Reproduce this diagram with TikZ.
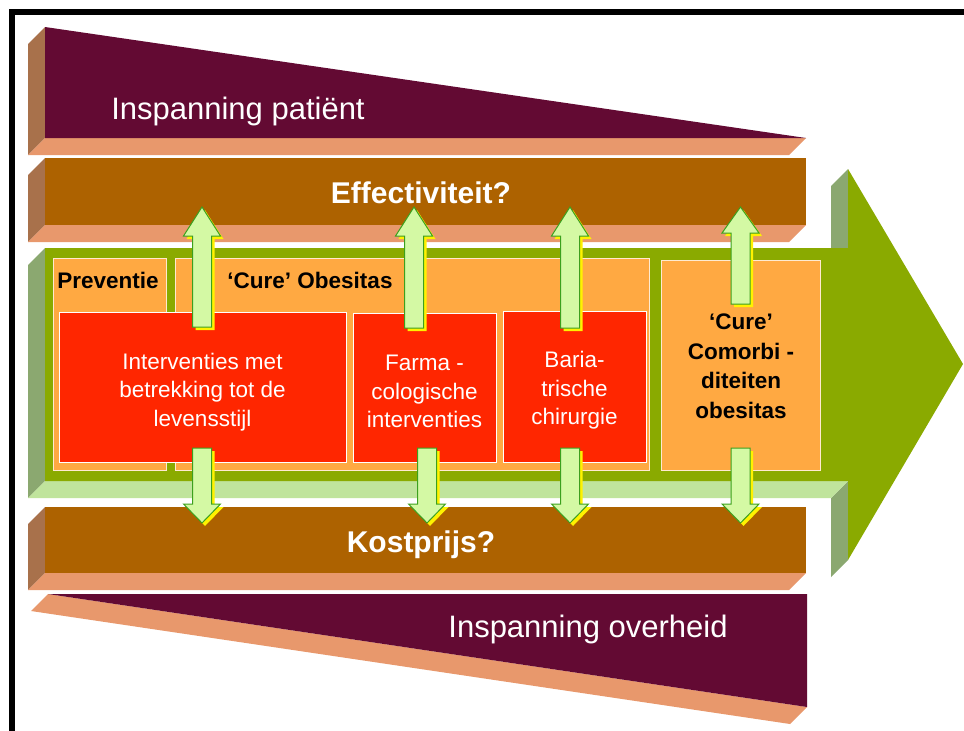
\documentclass[tikz,border=0pt]{standalone}
\usepackage{fontspec}
\setmainfont{Liberation Sans}
\usetikzlibrary{arrows.meta}
\definecolor{bordeaux}{HTML}{630A33}
\definecolor{zalm}{HTML}{E8986C}
\definecolor{bruinzij}{HTML}{A8714B}
\definecolor{oker}{HTML}{AD6200}
\definecolor{olijf}{HTML}{8AAA00}
\definecolor{grijsgroen}{HTML}{8BA870}
\definecolor{lichtgroen}{HTML}{C0E49C}
\definecolor{oranje}{HTML}{FFA942}
\definecolor{rood}{HTML}{FF2600}
\definecolor{pijlgroen}{HTML}{D4F9A4}
\definecolor{pijlrand}{HTML}{3CA01E}
\tikzset{%
  oranjevak/.style={draw=white!75!oranje, fill=oranje, line width=1pt, inner sep=0pt},
  roodvak/.style={draw=white, fill=rood, line width=1pt, inner sep=0pt},
  wittekst/.style={text=white, align=center, font=\fontsize{22.5}{28.5}\selectfont},
  witgroot/.style={text=white, anchor=base, font=\fontsize{31}{37}\selectfont},
  witvet/.style={text=white, anchor=base, font=\bfseries\fontsize{30}{36}\selectfont},
  zwartvet/.style={text=black, align=center, font=\bfseries\fontsize{22.5}{29.5}\selectfont},
}
% block arrow: x, tip, head base, tail
\newcommand{\pijl}[4]{%
  \fill[yellow, shift={(3,3)}] (#1-9.5,#4) -- (#1-9.5,#3) -- (#1-18.5,#3) -- (#1,#2) -- (#1+18.5,#3) -- (#1+9.5,#3) -- (#1+9.5,#4) -- cycle;
  \draw[pijlrand, fill=pijlgroen, line width=1pt] (#1-9.5,#4) -- (#1-9.5,#3) -- (#1-18.5,#3) -- (#1,#2) -- (#1+18.5,#3) -- (#1+9.5,#3) -- (#1+9.5,#4) -- cycle;
}

\begin{document}
\begin{tikzpicture}[x=1pt,y=-1pt]
\useasboundingbox (0,0) rectangle (964,731);
\fill[white] (0,0) rectangle (964,731);
\draw[line width=6pt] (12,731) -- (12,12) -- (964,12);

% inspanning patient
\fill[bruinzij] (45,27) -- (28,44) -- (28,155) -- (45,138) -- cycle;
\fill[zalm] (45,138) -- (806,138) -- (789,155) -- (28,155) -- cycle;
\fill[bordeaux] (45,27) -- (806,138) -- (45,138) -- cycle;

% effectiviteit / kostprijs
\foreach \yt/\yb in {158/225, 507/573} {
  \fill[bruinzij] (45,\yt) -- (28,\yt+17) -- (28,\yb+17) -- (45,\yb) -- cycle;
  \fill[zalm] (45,\yb) -- (806,\yb) -- (789,\yb+17) -- (28,\yb+17) -- cycle;
  \fill[oker] (45,\yt) rectangle (806,\yb);
}

% inspanning overheid
\fill[zalm] (48,594) -- (807,707) -- (790,724) -- (31,611) -- cycle;
\fill[bordeaux] (48,594) -- (807,594) -- (807,707) -- cycle;

% groene pijl
\fill[grijsgroen] (45,248) -- (28,265) -- (28,498) -- (45,481) -- cycle;
\fill[grijsgroen] (848,169) -- (831,186) -- (831,265) -- (848,248) -- cycle;
\fill[grijsgroen] (848,481) -- (831,498) -- (831,577) -- (848,560) -- cycle;
\fill[lichtgroen] (45,481) -- (848,481) -- (831,498) -- (28,498) -- cycle;
\fill[olijf] (45,248) -- (848,248) -- (848,169) -- (963,364) -- (848,560) -- (848,481) -- (45,481) -- cycle;

\node[oranjevak, minimum width=113, minimum height=212] (preventie) at (109.5,364) {};
\node[oranjevak, minimum width=474, minimum height=212] (cure) at (412,364) {};
\node[oranjevak, minimum width=159, minimum height=210] (comorbi) at (740.5,365) {};

\node[roodvak, minimum width=287, minimum height=150] (leefstijl) at (202.5,387) {};
\node[roodvak, minimum width=143, minimum height=149] (farma) at (424.5,387.5) {};
\node[roodvak, minimum width=143, minimum height=151] (baria) at (574.5,386.5) {};
\node[wittekst] (leefstijltekst) at ([yshift=-5pt]leefstijl.center) {Interventies met\\betrekking tot de\\levensstijl};
\node[wittekst] (farmatekst) at ([yshift=-4pt]farma.center) {Farma -\\cologische\\interventies};
\node[wittekst] (bariatekst) at ([yshift=-4pt]baria.center) {Baria-\\trische\\chirurgie};

\node[zwartvet, anchor=base] (prevtekst) at (108,288) {Preventie};
\node[zwartvet, anchor=base] (curetekst) at (310,288) {‘Cure’ Obesitas};
\node[zwartvet] (comorbitekst) at (741,366) {‘Cure’\\Comorbi -\\diteiten\\obesitas};

\node[witgroot] (patient) at (238,119) {Inspanning patiënt};
\node[witvet] (effect) at (421,203) {Effectiviteit?};
\node[witvet] (kost) at (421,552) {Kostprijs?};
\node[witgroot] (overheid) at (588,637) {Inspanning overheid};

\foreach \x/\s/\h in {202/327/236, 414/328/236, 570/328/236, 740.5/304/233}
  \pijl{\x}{207}{\h}{\s};
\foreach \x in {202, 427, 570, 740.5}
  \pijl{\x}{523}{504}{448};
\end{tikzpicture}
\end{document}
